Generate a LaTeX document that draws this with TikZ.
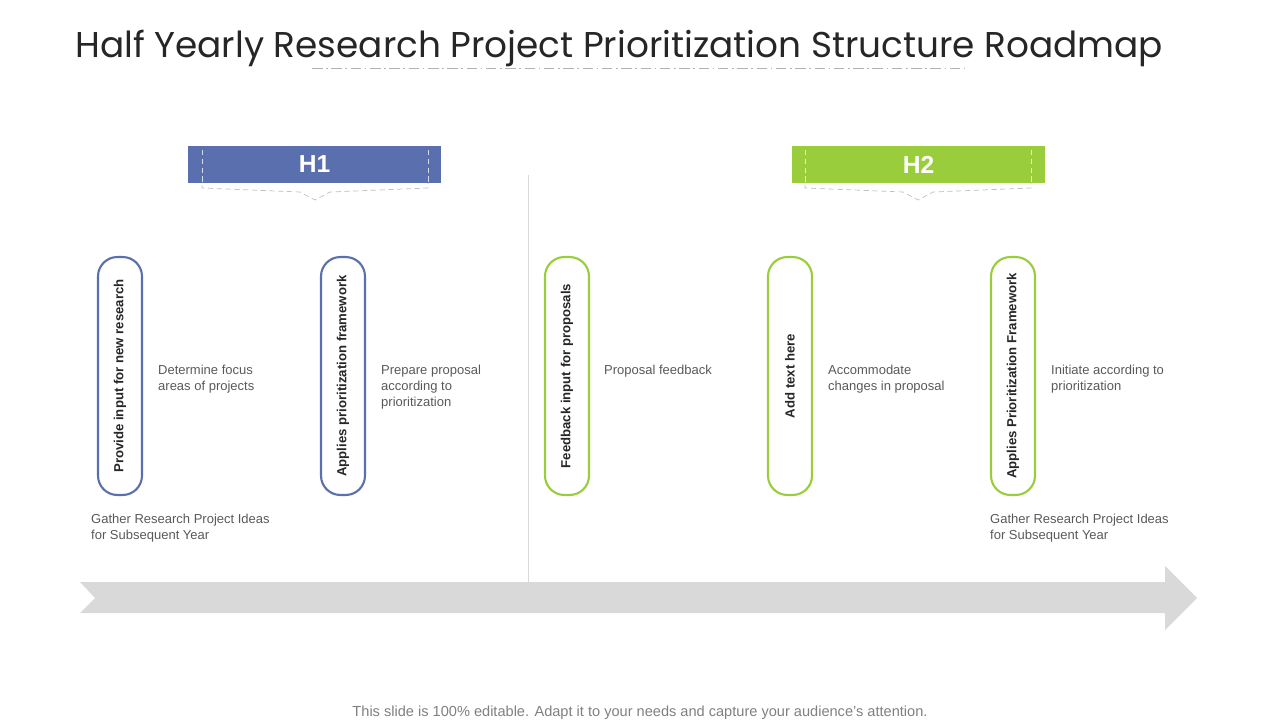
\documentclass[tikz,border=0pt]{standalone}
\usepackage{fontspec}
\setmainfont{Liberation Sans}
\newfontfamily\titlefont{Poppins}
\usetikzlibrary{positioning}
\definecolor{hblue}{HTML}{5A6FAD}
\definecolor{hgreen}{HTML}{9ACD3C}
\definecolor{txtgray}{HTML}{595959}
\begin{document}
\begin{tikzpicture}[x=0.02cm,y=-0.02cm]
	\tikzstyle{pill} = [rectangle, rounded corners=11pt, minimum width=0.88cm, minimum height=4.76cm, draw, line width=1.2pt, fill=white]
	\tikzstyle{pilltext} = [rotate=90, font=\bfseries\fontsize{7.5}{9}\selectfont, text=black!85]
	\tikzstyle{desc} = [anchor=north west, align=left, font=\fontsize{7.4}{9.2}\selectfont, text=txtgray]
	\tikzstyle{banner} = [rectangle, minimum width=5.06cm, minimum height=0.74cm, text=white, font=\bfseries\fontsize{14}{16}\selectfont]
	
	\useasboundingbox (0,0) rectangle (1280,720);
	
	\node (title) [anchor=base west, inner sep=0pt, font=\titlefont\fontsize{20.4}{24}\selectfont, text=black!85] at (75,57) {Half Yearly Research Project Prioritization Structure Roadmap};
	\draw [gray!60, dash pattern=on 6pt off 2pt on 1pt off 2pt] (312,68) -- (965,68);
	
	\draw [gray!30] (528,175) -- (528,582);
	
	% banners
	\draw [gray!50, densely dashed, fill=white] (202,150) -- (202,188) -- (300,192) -- (315,200) -- (330,192) -- (428,188) -- (428,150);
	\node (h1) [banner, fill=hblue] at (314.5,164.5) {H1};
	\draw [white!75!hblue, densely dashed] (202,150) -- (202,183) (428,150) -- (428,183);
	\draw [gray!50, densely dashed, fill=white] (805,150) -- (805,188) -- (903,192) -- (918,200) -- (933,192) -- (1031,188) -- (1031,150);
	\node (h2) [banner, fill=hgreen] at (918.5,164.5) {H2};
	\draw [white!75!hgreen, densely dashed] (805,150) -- (805,183) (1031,150) -- (1031,183);
	
	% pills
	\node (p1) [pill, draw=hblue] at (120,376) {};
	\node [pilltext] at (p1) {Provide input for new research};
	\node (p2) [pill, draw=hblue] at (343,376) {};
	\node [pilltext] at (p2) {Applies prioritization framework};
	\node (p3) [pill, draw=hgreen] at (567,376) {};
	\node [pilltext] at (p3) {Feedback input for proposals};
	\node (p4) [pill, draw=hgreen] at (790,376) {};
	\node [pilltext] at (p4) {Add text here};
	\node (p5) [pill, draw=hgreen] at (1013,376) {};
	\node [pilltext] at (p5) {Applies Prioritization Framework};
	
	\node (d1) [desc] at (152,359) {Determine focus\\areas of projects};
	\node (d2) [desc] at (375,359) {Prepare proposal\\according to\\prioritization};
	\node (d3) [desc] at (598,359) {Proposal feedback};
	\node (d4) [desc] at (822,359) {Accommodate\\changes in proposal};
	\node (d5) [desc] at (1045,359) {Initiate according to\\prioritization};
	\node (g1) [desc] at (85,508) {Gather Research Project Ideas\\for Subsequent Year};
	\node (g2) [desc] at (984,508) {Gather Research Project Ideas\\for Subsequent Year};
	
	% timeline arrow
	\fill [gray!30] (80,582) -- (1165,582) -- (1165,566) -- (1197,598) -- (1165,630) -- (1165,613) -- (80,613) -- (95,598) -- cycle;
	
	\node (foot) [font=\fontsize{8.3}{9}\selectfont, text=gray] at (640,713) {This slide is 100\% editable. Adapt it to your needs and capture your audience's attention.};
\end{tikzpicture}
\end{document}
